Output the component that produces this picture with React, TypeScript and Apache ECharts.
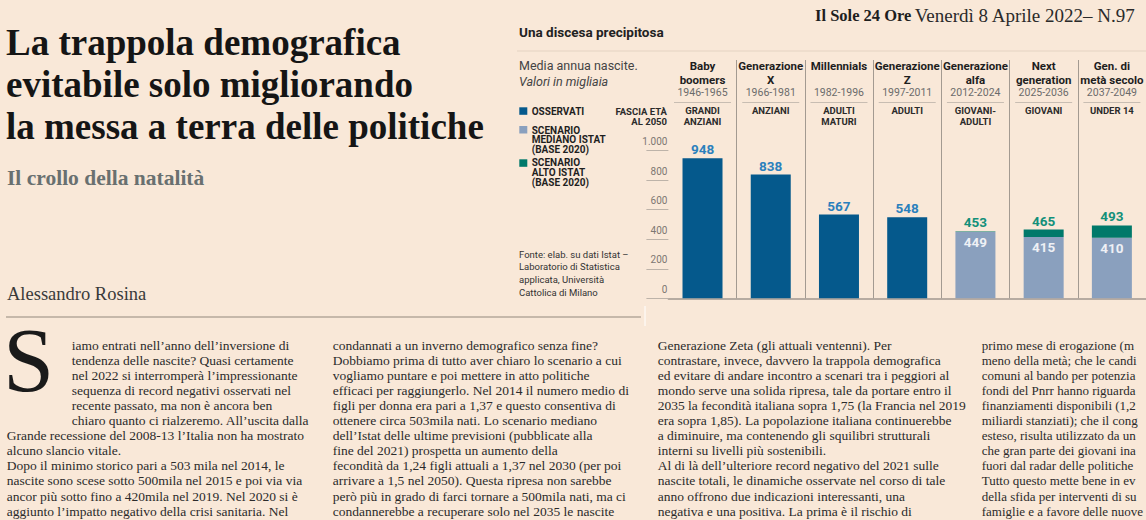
import React, { useEffect, useRef } from 'react';
import * as echarts from 'echarts';

// ---- chart data ----
const generations = ['Baby boomers', 'Generazione X', 'Millennials', 'Generazione Z', 'Generazione alfa', 'Next generation', 'Gen. di metà secolo'];
const nameLines = [['Baby', 'boomers'], ['Generazione', 'X'], ['Millennials', ''], ['Generazione', 'Z'], ['Generazione', 'alfa'], ['Next', 'generation'], ['Gen. di', 'metà secolo']];
const years = ['1946-1965', '1966-1981', '1982-1996', '1997-2011', '2012-2024', '2025-2036', '2037-2049'];
const ageBands = [['GRANDI', 'ANZIANI'], ['ANZIANI', ''], ['ADULTI', 'MATURI'], ['ADULTI', ''], ['GIOVANI-', 'ADULTI'], ['GIOVANI', ''], ['UNDER 14', '']];
const observed = [948, 838, 567, 548, null, null, null];
const scenarioMediano = [null, null, null, null, 449, 415, 410];
const scenarioAlto = [null, null, null, null, 453, 465, 493];
const yMin = 0;
const yMax = 1000;
const yStep = 200;

// ---- article text ----
const headline = ['La trappola demografica', 'evitabile solo migliorando', 'la messa a terra delle politiche'];
const col1 = [
  'iamo entrati nell’anno dell’inversione di',
  'tendenza delle nascite? Quasi certamente',
  'nel 2022 si interromperà l’impressionante',
  'sequenza di record negativi osservati nel',
  'recente passato, ma non è ancora ben',
  'chiaro quanto ci rialzeremo. All’uscita dalla',
  'Grande recessione del 2008-13 l’Italia non ha mostrato',
  'alcuno slancio vitale.',
  'Dopo il minimo storico pari a 503 mila nel 2014, le',
  'nascite sono scese sotto 500mila nel 2015 e poi via via',
  'ancor più sotto fino a 420mila nel 2019. Nel 2020 si è',
  'aggiunto l’impatto negativo della crisi sanitaria. Nel',
];
const col2 = [
  'condannati a un inverno demografico senza fine?',
  'Dobbiamo prima di tutto aver chiaro lo scenario a cui',
  'vogliamo puntare e poi mettere in atto politiche',
  'efficaci per raggiungerlo. Nel 2014 il numero medio di',
  'figli per donna era pari a 1,37 e questo consentiva di',
  'ottenere circa 503mila nati. Lo scenario mediano',
  'dell’Istat delle ultime previsioni (pubblicate alla',
  'fine del 2021) prospetta un aumento della',
  'fecondità da 1,24 figli attuali a 1,37 nel 2030 (per poi',
  'arrivare a 1,5 nel 2050). Questa ripresa non sarebbe',
  'però più in grado di farci tornare a 500mila nati, ma ci',
  'condannerebbe a recuperare solo nel 2035 le nascite',
];
const col3 = [
  'Generazione Zeta (gli attuali ventenni). Per',
  'contrastare, invece, davvero la trappola demografica',
  'ed evitare di andare incontro a scenari tra i peggiori al',
  'mondo serve una solida ripresa, tale da portare entro il',
  '2035 la fecondità italiana sopra 1,75 (la Francia nel 2019',
  'era sopra 1,85). La popolazione italiana continuerebbe',
  'a diminuire, ma contenendo gli squilibri strutturali',
  'interni su livelli più sostenibili.',
  'Al di là dell’ulteriore record negativo del 2021 sulle',
  'nascite totali, le dinamiche osservate nel corso di tale',
  'anno offrono due indicazioni interessanti, una',
  'negativa e una positiva. La prima è il rischio di',
];
const col4 = [
  'primo mese di erogazione (m',
  'meno della metà; che le candi',
  'comuni al bando per potenzia',
  'fondi del Pnrr hanno riguarda',
  'finanziamenti disponibili (1,2',
  'miliardi stanziati); che il cong',
  'esteso, risulta utilizzato da un',
  'che gran parte dei giovani ina',
  'fuori dal radar delle politiche',
  'Tutto questo mette bene in ev',
  'della sfida per interventi di su',
  'famiglie e a favore delle nuove',
];

const SERIF = '"Liberation Serif", "Times New Roman", serif';
const SANS = 'Roboto, "Liberation Sans", sans-serif';
const C_OBS = '#05598c';
const C_MED = '#8aa0be';
const C_ALTO = '#00796a';

type TOpts = { size?: number; family?: string; weight?: any; style?: string; color?: string; align?: string };
const txt = (text: string, x: number, y: number, o: TOpts = {}) => ({
  type: 'text',
  x,
  y,
  silent: true,
  style: {
    text,
    fill: o.color || '#2b2b2b',
    fontFamily: o.family || SERIF,
    fontSize: o.size || 13.5,
    fontWeight: o.weight || 'normal',
    fontStyle: o.style || 'normal',
    align: o.align || 'left',
    verticalAlign: 'middle',
  },
});

const line = (x1: number, y1: number, x2: number, y2: number, color: string, w: number) => ({
  type: 'line',
  silent: true,
  shape: { x1, y1, x2, y2 },
  style: { stroke: color, lineWidth: w },
});

function buildGraphic() {
  const g: any[] = [];
  // headline
  headline.forEach((h, i) => g.push(txt(h, 6, 42.5 + i * 42.2, { size: 37, weight: 'bold', color: '#151515' })));
  g.push(txt('Il crollo della natalità', 7, 177.7, { size: 21.5, weight: 'bold', color: '#697070' }));
  g.push(txt('Alessandro Rosina', 7, 293.8, { size: 18.5, color: '#3a3a3a' }));
  g.push(line(6, 317, 641, 317, '#c6b8aa', 2));
  g.push(line(645, 306, 645, 326, '#ffffff', 1));
  // drop cap
  g.push(txt('S', 3, 360, { size: 92, color: '#1a1a1a' }));
  const y0 = 345;
  const dy = 15.1;
  col1.forEach((l, i) => g.push(txt(l, i < 6 ? 71.7 : 6.7, y0 + i * dy)));
  col2.forEach((l, i) => g.push(txt(l, 332.7, y0 + i * dy)));
  col3.forEach((l, i) => g.push(txt(l, 657.7, y0 + i * dy)));
  col4.forEach((l, i) => g.push(txt(l, 981.7, y0 + i * dy, { size: 13 })));

  // masthead
  g.push({
    type: 'text',
    x: 815,
    y: 15,
    silent: true,
    style: {
      text: '{b|Il Sole 24 Ore} {r|Venerdì 8 Aprile 2022– N.97}',
      verticalAlign: 'middle',
      rich: {
        b: { fontFamily: SERIF, fontSize: 16.5, fontWeight: 'bold', fill: '#1e1e1e' },
        r: { fontFamily: SERIF, fontSize: 19, fill: '#2a2a2a' },
      },
    },
  });

  // chart header area
  g.push(txt('Una discesa precipitosa', 519, 31.7, { size: 13.5, weight: 'bold', family: SANS, color: '#222' }));
  g.push(line(517, 51, 1146, 51, '#e4d3c2', 1));
  g.push(txt('Media annua nascite.', 519, 65, { size: 12.5, family: SANS, color: '#444' }));
  g.push(txt('Valori in migliaia', 519, 81.7, { size: 12.5, family: SANS, style: 'italic', color: '#444' }));

  // legend
  const legend = [
    { color: C_OBS, top: 107.3, lines: ['OSSERVATI'], ys: [111] },
    { color: C_MED, top: 126, lines: ['SCENARIO', 'MEDIANO ISTAT', '(BASE 2020)'], ys: [130, 139.7, 149.3] },
    { color: C_ALTO, top: 159.3, lines: ['SCENARIO', 'ALTO ISTAT', '(BASE 2020)'], ys: [162.7, 172.3, 182] },
  ];
  legend.forEach((it) => {
    g.push({ type: 'rect', silent: true, shape: { x: 519.3, y: it.top, width: 8, height: 7.5 }, style: { fill: it.color } });
    it.lines.forEach((l, j) => g.push(txt(l, 531.7, it.ys[j], { size: 10, weight: 'bold', family: SANS, color: '#1f1f1f' })));
  });
  g.push(txt('FASCIA ETÀ', 667, 111, { size: 9.5, weight: 'bold', family: SANS, color: '#2b2b2b', align: 'right' }));
  g.push(txt('AL 2050', 667, 121.7, { size: 9.5, weight: 'bold', family: SANS, color: '#2b2b2b', align: 'right' }));

  // source
  ['Fonte: elab. su dati Istat –', 'Laboratorio di Statistica', 'applicata, Università', 'Cattolica di Milano'].forEach((l, i) =>
    g.push(txt(l, 519, 254 + i * 12.7, { size: 9.5, family: SANS, color: '#333' }))
  );
  return g;
}

export default function App() {
  const ref = useRef<HTMLDivElement>(null);
  useEffect(() => {
    document.body.style.margin = '0';
    const chart = echarts.init(ref.current!, null, { renderer: 'svg' });
    const altoDiff = scenarioAlto.map((v, i) => (v == null || scenarioMediano[i] == null ? null : v - (scenarioMediano[i] as number)));
    const option: any = {
      animation: false,
      backgroundColor: '#f9e8d8',
      grid: [
        { left: 668.4, top: 150.6, width: 489.3, height: 147.7 },
        { left: 668.4, top: 60, width: 489.3, height: 238.3 },
      ],
      xAxis: [
        {
          gridIndex: 0,
          type: 'category',
          data: generations,
          position: 'top',
          axisLine: { show: false },
          axisTick: { show: false },
          splitLine: { show: false },
          axisLabel: {
            interval: 0,
            margin: 23.6,
            formatter: (_v: string, i: number) =>
              `{n|${nameLines[i][0]}}\n{n|${nameLines[i][1] || ' '}}\n{y|${years[i]}}\n{u|}\n{g|${ageBands[i][0]}}\n{g|${ageBands[i][1] || ' '}}`,
            rich: {
              n: { fontFamily: SANS, fontWeight: 'bold', fontSize: 11.5, lineHeight: 14, color: '#1e1e1e' },
              y: { fontFamily: SANS, fontSize: 10.5, lineHeight: 12.5, color: '#6b6b6b' },
              u: { width: 57, height: 1, lineHeight: 6.4, backgroundColor: '#c8bdb2' },
              g: { fontFamily: SANS, fontWeight: 'bold', fontSize: 9.5, lineHeight: 10.7, color: '#2b2b2b' },
            },
          },
        },
        {
          gridIndex: 1,
          type: 'category',
          data: generations,
          position: 'bottom',
          axisLine: { show: true, lineStyle: { color: '#a0978f', width: 1.5 } },
          axisTick: { show: false },
          axisLabel: { show: false },
          splitLine: { show: true, interval: (i: number) => i > 0, lineStyle: { color: '#a39a91', width: 1 } },
        },
      ],
      yAxis: [
        {
          gridIndex: 0,
          type: 'value',
          min: yMin,
          max: yMax,
          interval: yStep,
          axisLine: { show: false },
          axisTick: { show: true, length: 22, lineStyle: { color: '#bdb3a9', width: 1 } },
          splitLine: { show: false },
          axisLabel: {
            margin: 1,
            fontFamily: SANS,
            fontSize: 10,
            color: '#7d7772',
            verticalAlign: 'bottom',
            lineHeight: 12,
            padding: [0, 0, 3, 0],
            formatter: (v: number) => String(v).replace(/\B(?=(\d{3})+(?!\d))/g, '.'),
          },
        },
        { gridIndex: 1, type: 'value', show: false, min: 0, max: 1 },
      ],
      series: [
        {
          name: 'Osservati',
          type: 'bar',
          stack: 'g',
          xAxisIndex: 0,
          yAxisIndex: 0,
          barWidth: 40,
          data: observed,
          itemStyle: { color: C_OBS },
          label: { show: true, position: 'top', distance: 2, color: '#2b80bd', fontFamily: SANS, fontSize: 13.5, fontWeight: 'bold', lineHeight: 14 },
        },
        {
          name: 'Scenario mediano Istat (base 2020)',
          type: 'bar',
          stack: 'g',
          xAxisIndex: 0,
          yAxisIndex: 0,
          barWidth: 40,
          data: scenarioMediano,
          itemStyle: { color: C_MED },
          label: { show: true, position: 'insideTop', distance: 3, color: '#eef0f5', fontFamily: SANS, fontSize: 13.5, fontWeight: 'bold', lineHeight: 14 },
        },
        {
          name: 'Scenario alto Istat (base 2020)',
          type: 'bar',
          stack: 'g',
          xAxisIndex: 0,
          yAxisIndex: 0,
          barWidth: 40,
          data: altoDiff,
          itemStyle: { color: C_ALTO },
          label: {
            show: true,
            position: 'top',
            distance: 2,
            color: '#13907a',
            fontFamily: SANS,
            fontSize: 13.5,
            fontWeight: 'bold',
            lineHeight: 14,
            formatter: (p: any) => String(scenarioAlto[p.dataIndex]),
          },
        },
      ],
      graphic: buildGraphic(),
    };
    chart.setOption(option);
    return () => chart.dispose();
  }, []);
  return <div ref={ref} style={{ position: 'absolute', left: 0, top: 0, width: 1146, height: 520, background: '#f9e8d8' }} />;
}
